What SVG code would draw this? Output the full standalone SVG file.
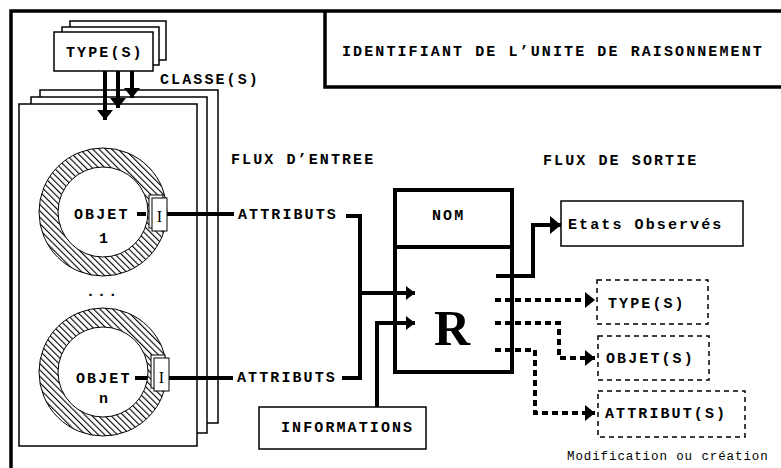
<svg xmlns="http://www.w3.org/2000/svg" width="781" height="468" viewBox="0 0 781 468">
<style>
.b{font-family:"Liberation Mono",monospace;font-weight:bold;font-size:15px;letter-spacing:2.1px;fill:#000}
.n{font-family:"Liberation Mono",monospace;font-size:12.5px;letter-spacing:0.9px;fill:#000}
.box{fill:#fff;stroke:#000;stroke-width:1.5}
.dbox{fill:none;stroke:#000;stroke-width:1.5;stroke-dasharray:5 4}
.thick{fill:none;stroke:#000;stroke-width:4}
.dot{fill:none;stroke:#000;stroke-width:4;stroke-dasharray:6 4}
.frame{fill:none;stroke:#000;stroke-width:3.5}
.ring{fill:url(#hatch);fill-rule:evenodd;stroke:#000;stroke-width:1}
.ibox{fill:#fff;stroke:#000;stroke-width:1}
.ser{font-family:"Liberation Serif",serif;fill:#000}
</style>
<defs>
<pattern id="hatch" patternUnits="userSpaceOnUse" width="4.5" height="4.5" patternTransform="rotate(-45)">
<rect width="4.5" height="4.5" fill="#fff"/>
<rect x="0" y="0" width="1.1" height="4.5" fill="#000"/>
</pattern>
<marker id="ahS" markerUnits="userSpaceOnUse" markerWidth="9" markerHeight="14" refX="9" refY="7" orient="auto"><path d="M0,0 L9,7 L0,14 Z" fill="#000"/></marker>
<marker id="ahM" markerUnits="userSpaceOnUse" markerWidth="10" markerHeight="16" refX="10" refY="8" orient="auto"><path d="M0,0 L10,8 L0,16 Z" fill="#000"/></marker>
<marker id="ahL" markerUnits="userSpaceOnUse" markerWidth="11" markerHeight="18" refX="11" refY="9" orient="auto"><path d="M0,0 L11,9 L0,18 Z" fill="#000"/></marker>
</defs>
<rect width="781" height="468" fill="#fff"/>

<g id="frame">
<path class="frame" d="M11,468 V11 H781"/>
<path class="frame" d="M325,11 V87 H781"/>
<text class="b" x="342" y="56">IDENTIFIANT DE L’UNITE DE RAISONNEMENT</text>
</g>

<g id="types">
<rect class="box" x="70" y="21" width="96" height="39"/>
<rect class="box" x="62" y="27" width="97" height="38"/>
<rect class="box" x="54" y="32" width="99" height="39"/>
<text class="b" x="66" y="57">TYPE(S)</text>
</g>

<g id="classes">
<rect class="box" x="40" y="90" width="178" height="333"/>
<rect class="box" x="31" y="97" width="176" height="336"/>
<rect class="box" x="19" y="104" width="178" height="342"/>
<text class="b" x="160" y="84">CLASSE(S)</text>
</g>

<g id="objet1">
<path class="ring" d="M39,212 a64,64 0 1,0 128,0 a64,64 0 1,0 -128,0 Z M58,212 a45,45 0 1,0 90,0 a45,45 0 1,0 -90,0 Z"/>
<text class="b" x="74" y="219">OBJET</text>
<line class="thick" x1="137" y1="214" x2="146" y2="214" stroke-width="3"/>
<rect class="ibox" x="149" y="195" width="14" height="33"/>
<rect class="ibox" x="152" y="198" width="15" height="33"/>
<text class="ser" x="159.5" y="222" font-size="16" text-anchor="middle">I</text>
<text class="b" x="99" y="243">1</text>
</g>

<text class="b" x="86" y="296">...</text>

<g id="objetn">
<path class="ring" d="M39,372 a64,64 0 1,0 128,0 a64,64 0 1,0 -128,0 Z M58,372 a45,45 0 1,0 90,0 a45,45 0 1,0 -90,0 Z"/>
<text class="b" x="76" y="383">OBJET</text>
<line class="thick" x1="135" y1="378" x2="147" y2="378" stroke-width="3"/>
<rect class="ibox" x="151" y="355" width="14" height="33"/>
<rect class="ibox" x="154" y="358" width="15" height="33"/>
<text class="ser" x="161.5" y="383" font-size="16" text-anchor="middle">I</text>
<text class="b" x="99" y="403">n</text>
</g>

<g id="rbox">
<rect x="395" y="190" width="117" height="182" fill="#fff" stroke="#000" stroke-width="4"/>
<line x1="395" y1="247" x2="512" y2="247" stroke="#000" stroke-width="4"/>
<text class="b" x="432" y="220">NOM</text>
<text class="ser" x="452" y="345" font-size="50" font-weight="bold" text-anchor="middle">R</text>
</g>

<g id="informations">
<rect class="box" x="259" y="407" width="167" height="42"/>
<text class="b" x="281" y="432">INFORMATIONS</text>
</g>

<g id="etats">
<rect class="box" x="561" y="201" width="182" height="45"/>
<text class="b" x="568" y="229">Etats Observés</text>
</g>

<g id="out-types">
<rect class="dbox" x="597" y="280" width="111" height="44"/>
<text class="b" x="608" y="308">TYPE(S)</text>
</g>
<g id="out-objets">
<rect class="dbox" x="598" y="336" width="111" height="44"/>
<text class="b" x="606" y="363">OBJET(S)</text>
</g>
<g id="out-attributs">
<rect class="dbox" x="598" y="391" width="147" height="46"/>
<text class="b" x="605" y="418">ATTRIBUT(S)</text>
</g>

<g id="labels">
<text class="b" x="231" y="164">FLUX D’ENTREE</text>
<text class="b" x="543" y="165">FLUX DE SORTIE</text>
<text class="b" x="238" y="219">ATTRIBUTS</text>
<text class="b" x="237" y="382">ATTRIBUTS</text>
<text class="n" x="567" y="460">Modification ou création</text>
</g>

<g id="connectors">
<line class="thick" x1="105" y1="71" x2="105" y2="120" marker-end="url(#ahM)"/>
<line class="thick" x1="118" y1="71" x2="118" y2="108" marker-end="url(#ahM)"/>
<line class="thick" x1="132" y1="71" x2="132" y2="98" marker-end="url(#ahM)"/>
<line class="thick" x1="167" y1="214" x2="234" y2="214" stroke-width="3"/>
<line class="thick" x1="169" y1="378" x2="233" y2="378" stroke-width="3"/>
<path class="thick" d="M346,216 H360 V378 H342"/>
<path class="thick" d="M360,293 H415" marker-end="url(#ahS)"/>
<path class="thick" d="M377,407 V323 H415" marker-end="url(#ahS)"/>
<path class="thick" d="M496,276 H533 V225 H561" marker-end="url(#ahL)"/>
<path class="dot" d="M495,300 H595" marker-end="url(#ahM)"/>
<path class="dot" d="M495,323 H559 V358 H595" marker-end="url(#ahM)"/>
<path class="dot" d="M495,350 H535 V413 H595" marker-end="url(#ahM)"/>
</g>
</svg>
